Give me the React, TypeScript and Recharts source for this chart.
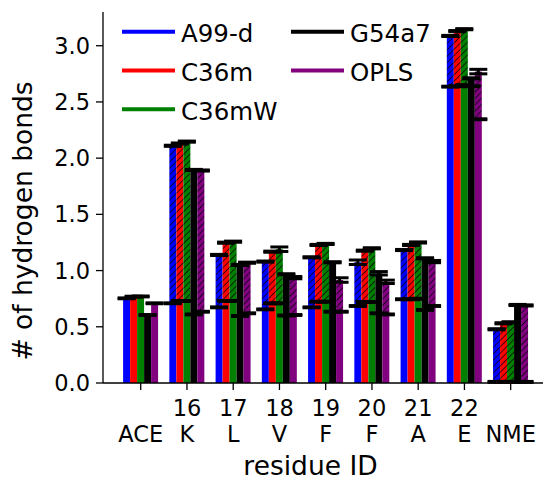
import React from 'react';
import { BarChart, Bar, XAxis, YAxis, ErrorBar, Legend, Label } from 'recharts';

const FONT = '"DejaVu Sans", sans-serif';

const residueNums = ['', '16', '17', '18', '19', '20', '21', '22', ''];
const residueNames = ['ACE', 'K', 'L', 'V', 'F', 'F', 'A', 'E', 'NME'];
const yTicks = [0, 0.5, 1.0, 1.5, 2.0, 2.5, 3.0];

// full bar height (top of hatched part)
const a99Total = [0.753, 2.11, 1.139, 1.08, 1.118, 1.074, 1.183, 3.087, 0.478];
const c36mTotal = [0.768, 2.13, 1.248, 1.168, 1.228, 1.177, 1.228, 3.13, 0.531];
const c36mwTotal = [0.77, 2.147, 1.257, 1.19, 1.237, 1.198, 1.25, 3.147, 0.54];
const g54Total = [0.605, 1.895, 1.05, 0.967, 1.074, 0.976, 1.109, 2.71, 0.694];
const oplsTotal = [0.709, 1.89, 1.07, 0.937, 0.916, 0.9, 1.08, 2.77, 0.69];

// solid part (below the black split line)
const a99Base = [0.753, 0.709, 0.673, 0.655, 0.673, 0.685, 0.745, 2.636, 0.01];
const c36mBase = [0.768, 0.73, 0.73, 0.709, 0.723, 0.72, 0.745, 2.64, 0.01];
const c36mwBase = [0.77, 0.73, 0.73, 0.709, 0.723, 0.72, 0.75, 2.65, 0.01];
const g54Base = [0.605, 0.61, 0.596, 0.6, 0.634, 0.62, 0.65, 2.64, 0.01];
const oplsBase = [0.709, 0.634, 0.62, 0.605, 0.634, 0.61, 0.685, 2.346, 0.01];

// errors on the totals
const a99Err = [0.005, 0.005, 0.005, 0.005, 0.005, 0.02, 0.005, 0.005, 0.005];
const c36mErr = [0.005, 0.005, 0.005, 0.005, 0.005, 0.005, 0.005, 0.005, 0.005];
const c36mwErr = [0.005, 0.005, 0.005, 0.02, 0.005, 0.005, 0.005, 0.005, 0.005];
const g54Err = [0.005, 0.005, 0.005, 0.005, 0.005, 0.015, 0.005, 0.005, 0.005];
const oplsErr = [0.005, 0.005, 0.005, 0.01, 0.02, 0.015, 0.01, 0.02, 0.005];

const SERIES = [
  { name: 'A99-d', color: '#0000ff', total: a99Total, base: a99Base, err: a99Err },
  { name: 'C36m', color: '#ff0000', total: c36mTotal, base: c36mBase, err: c36mErr },
  { name: 'C36mW', color: '#008000', total: c36mwTotal, base: c36mwBase, err: c36mwErr },
  { name: 'G54a7', color: '#000000', total: g54Total, base: g54Base, err: g54Err },
  { name: 'OPLS', color: '#800080', total: oplsTotal, base: oplsBase, err: oplsErr },
];

const table = residueNames.map((n, i) => {
  const row: any = { name: `${residueNums[i]} ${n}`.trim() };
  SERIES.forEach((s, k) => {
    row[`b${k}`] = s.base[i];
    row[`h${k}`] = Math.max(0, s.total[i] - s.base[i]);
    row[`be${k}`] = 0.004;
    row[`he${k}`] = s.err[i];
  });
  return row;
});

const XTick = (props: any) => {
  const { x, y, payload } = props;
  const i = payload.index;
  return (
    <g>
      <text x={x} y={y + 26} textAnchor="middle" fontSize={22.5} fontFamily={FONT} fill="#000">
        {residueNums[i]}
      </text>
      <text x={x} y={y + 52} textAnchor="middle" fontSize={22.5} fontFamily={FONT} fill="#000">
        {residueNames[i]}
      </text>
    </g>
  );
};

const renderLegend = () => (
  <svg width={545} height={130} style={{ fontFamily: FONT }}>
    {SERIES.map((s, k) => {
      const col = k < 3 ? 0 : 1;
      const row = k < 3 ? k : k - 3;
      const x0 = col === 0 ? 122 : 291;
      const y0 = 31.7 + row * 38.8;
      return (
        <g key={s.name}>
          <line x1={x0} x2={x0 + 53} y1={y0} y2={y0} stroke={s.color} strokeWidth={4} />
          <text x={x0 + 59} y={y0 + 10.6} fontSize={24.5} fill="#000">
            {s.name}
          </text>
        </g>
      );
    })}
  </svg>
);

export default function App() {
  return (
    <div style={{ position: 'absolute', left: 0, top: 0 }}>
      <BarChart
        width={545}
        height={479}
        data={table}
        margin={{ top: 12, right: 2, bottom: 0, left: 0 }}
        barCategoryGap={5.5}
        barGap={0}
      >
        <defs>
          {SERIES.map((s, k) => (
            <pattern
              key={k}
              id={`hatch${k}`}
              patternUnits="userSpaceOnUse"
              width={4.5}
              height={4.5}
              patternTransform="rotate(45)"
            >
              <rect x={0} y={0} width={4.5} height={4.5} fill={s.color} />
              <line x1={0} y1={0} x2={0} y2={4.5} stroke="#000" strokeWidth={1.4} />
            </pattern>
          ))}
        </defs>
        <XAxis
          dataKey="name"
          interval={0}
          height={96}
          padding={{ left: 14.6, right: 9.2 }}
          tickSize={7}
          tickMargin={0}
          tick={<XTick />}
          axisLine={{ stroke: '#000', strokeWidth: 1.3 }}
          tickLine={{ stroke: '#000', strokeWidth: 1.3 }}
        >
          <Label
            content={() => (
              <text x={310.5} y={474.5} textAnchor="middle" fontSize={26.5} fontFamily={FONT} fill="#000">
                residue ID
              </text>
            )}
          />
        </XAxis>
        <XAxis
          xAxisId="top"
          orientation="top"
          dataKey="name"
          height={0}
          tick={false}
          tickLine={false}
          axisLine={{ stroke: '#000', strokeWidth: 1.3 }}
        />
        <YAxis
          width={103}
          domain={[0, 3.3]}
          allowDataOverflow
          ticks={yTicks}
          tickFormatter={(v: number) => v.toFixed(1)}
          tickSize={7}
          tickMargin={6}
          tick={{ fontSize: 22.5, fontFamily: FONT, fill: '#000' }}
          axisLine={{ stroke: '#000', strokeWidth: 1.3 }}
          tickLine={{ stroke: '#000', strokeWidth: 1.3 }}
        >
          <Label
            content={() => (
              <text
                x={31.5}
                y={221}
                transform="rotate(-90 31.5 221)"
                textAnchor="middle"
                fontSize={26.5}
                fontFamily={FONT}
                fill="#000"
              >
                # of hydrogen bonds
              </text>
            )}
          />
        </YAxis>
        <YAxis
          yAxisId="right"
          orientation="right"
          width={0}
          domain={[0, 3.3]}
          allowDataOverflow
          tick={false}
          tickLine={false}
          axisLine={{ stroke: '#000', strokeWidth: 1.3 }}
        />
        <Legend
          content={renderLegend}
          layout="horizontal"
          verticalAlign="middle"
          align="center"
          wrapperStyle={{ left: 0, top: 0, width: 545, height: 130 }}
        />
        {SERIES.flatMap((s, k) => [
          <Bar key={`b${k}`} dataKey={`b${k}`} stackId={`s${k}`} fill={s.color} isAnimationActive={false}>
            <ErrorBar dataKey={`be${k}`} width={9} stroke="#000" strokeWidth={3} direction="y" />
          </Bar>,
          <Bar key={`h${k}`} dataKey={`h${k}`} stackId={`s${k}`} fill={`url(#hatch${k})`} isAnimationActive={false}>
            <ErrorBar dataKey={`he${k}`} width={9} stroke="#000" strokeWidth={3} direction="y" />
          </Bar>,
        ])}
      </BarChart>
    </div>
  );
}
